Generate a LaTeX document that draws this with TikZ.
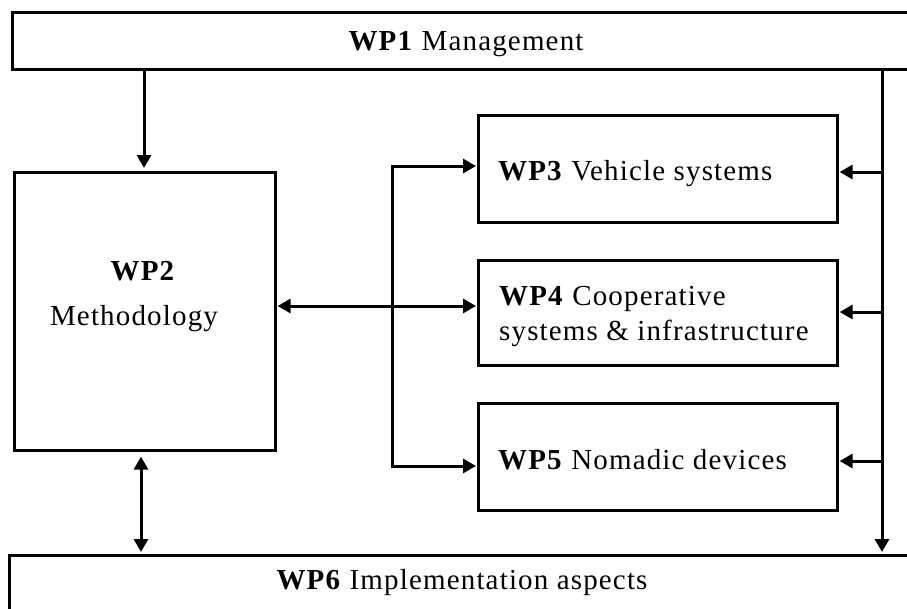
\documentclass[tikz,border=0pt]{standalone}
\usepackage{fontspec}
\setmainfont{Liberation Serif}[LetterSpace=4]
\usetikzlibrary{arrows.meta}
\tikzset{
  wpbox/.style={draw, line width=2.6pt, inner sep=0pt, anchor=north west, fill=white},
  wptext/.style={inner sep=0pt, font=\fontsize{29}{33}\selectfont},
  conn/.style={line width=3pt},
  tip/.tip={Triangle[length=13pt,width=14pt]},
  arr/.style={conn, -{tip}},
  dbl/.style={conn, {tip}-{tip}}
}
\begin{document}
\begin{tikzpicture}[x=1pt,y=-1pt]
\useasboundingbox (0,0) rectangle (907,608);
\clip (0,0) rectangle (907,608);
% boxes
\node[wpbox, minimum width=910pt, minimum height=57pt] (wp1) at (11,11) {};
\node[wpbox, minimum width=261pt, minimum height=278pt] (wp2) at (13,171) {};
\node[wpbox, minimum width=359pt, minimum height=107pt] (wp3) at (477,114) {};
\node[wpbox, minimum width=359pt, minimum height=105pt] (wp4) at (477,259) {};
\node[wpbox, minimum width=359pt, minimum height=107pt] (wp5) at (477,402) {};
\node[wpbox, minimum width=910pt, minimum height=70pt] (wp6) at (8,554) {};
% texts
\node[wptext, anchor=base] (t1) at (466,50) {\textbf{WP1} Management};
\node[wptext, anchor=base] (t2a) at (143,280) {\textbf{WP2}};
\node[wptext, anchor=base] (t2b) at (134,325) {Methodology};
\node[wptext, anchor=base west] (t3) at (498,180) {\textbf{WP3} Vehicle systems};
\node[wptext, anchor=base west] (t4a) at (499,305) {\textbf{WP4} Cooperative};
\node[wptext, anchor=base west] (t4b) at (499,340) {systems \& infrastructure};
\node[wptext, anchor=base west] (t5) at (498,469) {\textbf{WP5} Nomadic devices};
\node[wptext, anchor=base] (t6) at (462,589) {\textbf{WP6} Implementation aspects};
% helper coordinates
\coordinate (xa) at (144,0);
\coordinate (xb) at (141,0);
\coordinate (b3) at (392,166);
\coordinate (b4) at (392,306);
\coordinate (b5) at (392,466);
\coordinate (r0) at (882,0);
\coordinate (r3) at (882,172);
\coordinate (r4) at (882,312);
\coordinate (r5) at (882,461);
% connectors
\draw[arr, shorten >=3pt] (wp1.south -| xa) -- (wp2.north -| xa);
\draw[dbl, shorten <=5pt, shorten >=2pt] (wp2.south -| xb) -- (wp6.north -| xb);
\draw[dbl, shorten <=1pt, shorten >=1pt] (wp3.west |- b3) -- (b3) -- (b5) -- (wp5.west |- b5);
\draw[dbl, shorten <=1pt, shorten >=1pt] (wp2.east |- b4) -- (wp4.west |- b4);
\draw[arr, shorten >=2pt] (wp1.south -| r0) -- (wp6.north -| r0);
\draw[arr, shorten >=1pt] (r3) -- (wp3.east |- r3);
\draw[arr, shorten >=1pt] (r4) -- (wp4.east |- r4);
\draw[arr, shorten >=1pt] (r5) -- (wp5.east |- r5);
\end{tikzpicture}
\end{document}
